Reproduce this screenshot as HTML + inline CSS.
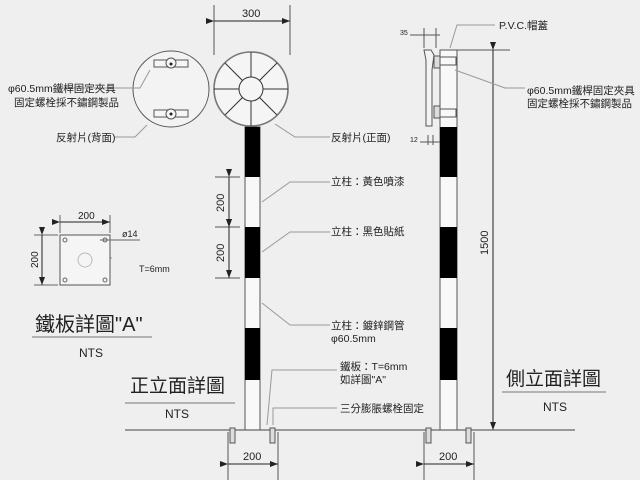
<!DOCTYPE html>
<html><head><meta charset="utf-8"><style>
body{margin:0;background:#efefef}
svg{display:block}
text{font-family:"Liberation Sans","Noto Sans CJK TC",sans-serif;fill:#222}
</style></head><body>
<svg width="640" height="480" viewBox="0 0 640 480" xmlns="http://www.w3.org/2000/svg">
<rect width="640" height="480" fill="#efefef"/>
<defs><marker id="a" markerWidth="8" markerHeight="6" refX="8" refY="3" orient="auto"><path d="M0,0L8,3L0,6z" fill="#222"/></marker></defs>
<g stroke="#555" fill="none" stroke-width="1">
<line x1="214" y1="5" x2="214" y2="55"/><line x1="290" y1="5" x2="290" y2="55"/>
<line x1="214" y1="21" x2="290" y2="21" stroke="#222" marker-end="url(#a)" marker-start="url(#a)"/>
</g>
<text x="242" y="17" font-size="11">300</text>
<circle cx="171" cy="89" r="38" fill="#f3f3f3" stroke="#555" stroke-width="1"/>
<g stroke="#555" fill="#f6f6f6">
<rect x="154" y="60" width="34" height="7"/><rect x="154" y="110" width="34" height="7"/>
<circle cx="171" cy="63" r="5"/><circle cx="171" cy="114" r="5"/>
</g>
<circle cx="171" cy="64" r="1.5" fill="#222"/><circle cx="171" cy="114" r="1.5" fill="#222"/>
<circle cx="251" cy="89" r="37" fill="#f5f5f5" stroke="#777" stroke-width="1.6"/>
<g stroke="#333" stroke-width="1">
<line x1="251" y1="52" x2="251" y2="126"/><line x1="214" y1="89" x2="288" y2="89"/>
<line x1="225" y1="63" x2="277" y2="115"/><line x1="277" y1="63" x2="225" y2="115"/>
</g>
<circle cx="251" cy="89" r="12" fill="#f5f5f5" stroke="#333"/>
<rect x="245" y="127" width="15" height="303" fill="#f8f8f8" stroke="#555"/>
<rect x="245" y="127" width="15" height="50" fill="#000"/>
<rect x="245" y="227" width="15" height="51" fill="#000"/>
<rect x="245" y="328" width="15" height="52" fill="#000"/>
<rect x="440" y="50" width="17" height="380" fill="#f8f8f8" stroke="#555"/>
<rect x="440" y="127" width="17" height="50" fill="#000"/>
<rect x="440" y="227" width="17" height="51" fill="#000"/>
<rect x="440" y="328" width="17" height="52" fill="#000"/>
<path d="M424,50 L431,50 L434,55 L432,70 L432,126 L426,126 L426,60 Z" fill="#f3f3f3" stroke="#555"/>
<rect x="434" y="56" width="6" height="12" fill="#ddd" stroke="#555"/><rect x="434" y="106" width="6" height="12" fill="#ddd" stroke="#555"/>
<rect x="440" y="57" width="16" height="8" fill="none" stroke="#555"/><rect x="440" y="109" width="16" height="8" fill="none" stroke="#555"/>
<g stroke="#555" fill="none">
<line x1="457" y1="50" x2="510" y2="50"/>
<line x1="493" y1="50" x2="493" y2="430" stroke="#222" marker-start="url(#a)" marker-end="url(#a)"/>
<line x1="424" y1="28" x2="424" y2="48"/><line x1="436" y1="28" x2="436" y2="48"/>
<line x1="410" y1="35" x2="440" y2="35"/>
<line x1="428" y1="135" x2="428" y2="145"/><line x1="433" y1="135" x2="433" y2="145"/>
<line x1="420" y1="142" x2="440" y2="142"/>
<line x1="125" y1="430" x2="575" y2="430" stroke="#666" stroke-width="1.3"/>
<line x1="228" y1="432" x2="228" y2="480"/><line x1="278" y1="432" x2="278" y2="480"/>
<line x1="228" y1="464" x2="278" y2="464" stroke="#222" marker-start="url(#a)" marker-end="url(#a)"/>
<line x1="424" y1="432" x2="424" y2="480"/><line x1="474" y1="432" x2="474" y2="480"/>
<line x1="424" y1="464" x2="474" y2="464" stroke="#222" marker-start="url(#a)" marker-end="url(#a)"/>
<line x1="215" y1="177" x2="240" y2="177"/><line x1="215" y1="227" x2="240" y2="227"/><line x1="215" y1="278" x2="240" y2="278"/>
<line x1="229" y1="177" x2="229" y2="227" stroke="#222" marker-start="url(#a)" marker-end="url(#a)"/>
<line x1="229" y1="227" x2="229" y2="278" stroke="#222" marker-start="url(#a)" marker-end="url(#a)"/>
</g>
<g fill="#ddd" stroke="#555">
<rect x="230" y="428" width="5" height="15"/><rect x="270" y="428" width="5" height="15"/>
<rect x="426" y="428" width="5" height="15"/><rect x="466" y="428" width="5" height="15"/>
</g>
<text x="243" y="460" font-size="11">200</text>
<text x="439" y="460" font-size="11">200</text>
<text transform="translate(224,212) rotate(-90)" font-size="11">200</text>
<text transform="translate(224,262) rotate(-90)" font-size="11">200</text>
<text transform="translate(488,255) rotate(-90)" font-size="11">1500</text>
<text x="400" y="35" font-size="7">35</text>
<text x="410" y="142" font-size="7">12</text>
<g stroke="#999" fill="none">
<polyline points="60,88 140,88 150,70"/>
<polyline points="115,137 135,137 147,125"/>
<polyline points="330,137 295,137 275,124"/>
<polyline points="330,182 290,182 262,202"/>
<polyline points="330,232 290,232 262,252"/>
<polyline points="330,325 290,325 262,303"/>
<polyline points="337,370 272,370 267,425"/>
<polyline points="337,408 273,408 273,425"/>
<polyline points="495,25 457,25 450,48"/>
<polyline points="525,88 505,88 455,70"/>
<polyline points="112,258 100,258 90,250"/>
</g>
<g font-size="10.5">
<text x="8" y="92">φ60.5mm鐵桿固定夾具</text>
<text x="14" y="106">固定螺栓採不鏽鋼製品</text>
<text x="56" y="141">反射片(背面)</text>
<text x="331" y="141">反射片(正面)</text>
<text x="331" y="185">立柱：黃色噴漆</text>
<text x="331" y="235">立柱：黑色貼紙</text>
<text x="331" y="329">立柱：鍍鋅鋼管</text>
<text x="331" y="342">φ60.5mm</text>
<text x="340" y="370">鐵板：T=6mm</text>
<text x="340" y="383">如詳圖"A"</text>
<text x="340" y="412">三分膨脹螺栓固定</text>
<text x="499" y="29">P.V.C.帽蓋</text>
<text x="527" y="94">φ60.5mm鐵桿固定夾具</text>
<text x="527" y="107">固定螺栓採不鏽鋼製品</text>
</g>
<rect x="60" y="235" width="50" height="50" fill="#f5f5f5" stroke="#555"/>
<g fill="none" stroke="#666"><circle cx="65" cy="240" r="2"/><circle cx="105" cy="240" r="2"/><circle cx="65" cy="280" r="2"/><circle cx="105" cy="280" r="2"/><circle cx="85" cy="260" r="7" stroke="#bbb"/>
<line x1="60" y1="215" x2="60" y2="233"/><line x1="110" y1="215" x2="110" y2="233"/>
<line x1="60" y1="222" x2="110" y2="222" stroke="#222" marker-start="url(#a)" marker-end="url(#a)"/>
<line x1="34" y1="235" x2="58" y2="235"/><line x1="34" y1="285" x2="58" y2="285"/>
<line x1="42" y1="235" x2="42" y2="285" stroke="#222" marker-start="url(#a)" marker-end="url(#a)"/>
<line x1="100" y1="240" x2="140" y2="240"/>
</g>
<text x="78" y="219" font-size="10">200</text>
<text transform="translate(38,268) rotate(-90)" font-size="10">200</text>
<text x="122" y="237" font-size="9">ø14</text>
<text x="139" y="272" font-size="9">T=6mm</text>
<text x="35" y="331" font-size="20" fill="#333">鐵板詳圖"A"</text>
<line x1="32" y1="337" x2="152" y2="337" stroke="#777"/>
<text x="79" y="357" font-size="12">NTS</text>
<text x="130" y="392" font-size="19" fill="#333">正立面詳圖</text>
<line x1="125" y1="403" x2="235" y2="403" stroke="#777"/>
<text x="165" y="418" font-size="12">NTS</text>
<text x="506" y="385" font-size="19" fill="#333">側立面詳圖</text>
<line x1="502" y1="392" x2="606" y2="392" stroke="#777"/>
<text x="543" y="411" font-size="12">NTS</text>
</svg>
</body></html>
